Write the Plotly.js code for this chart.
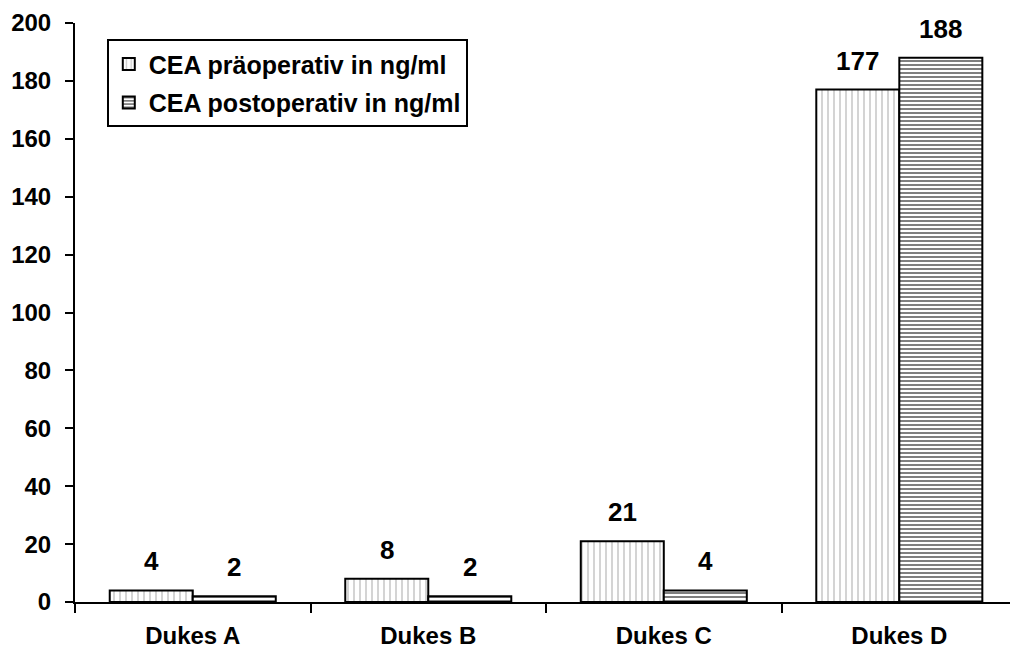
<!DOCTYPE html>
<html>
<head>
<meta charset="utf-8">
<script src="https://cdn.plot.ly/plotly-3.0.1.min.js"></script>
<style>
  html, body { margin: 0; padding: 0; background: #fff; }
  #chart { width: 1010px; height: 653px; }
</style>
</head>
<body>
<div id="chart"></div>
<script>
// CEA-Werte nach Dukes-Stadium
const categories = ["Dukes A", "Dukes B", "Dukes C", "Dukes D"];
const seriesNames = ["CEA präoperativ in ng/ml", "CEA postoperativ in ng/ml"];
const preValues = [4, 8, 21, 177];
const postValues = [2, 2, 4, 188];
const yTicks = [0, 20, 40, 60, 80, 100, 120, 140, 160, 180, 200];

const FONT = "Liberation Sans, Arial, Helvetica, sans-serif";

const traces = [
  {
    type: "bar",
    name: seriesNames[0],
    legendgroup: "pre",
    x: categories,
    y: preValues,
    marker: {
      color: "#ffffff",
      line: { color: "#000000", width: 2 },
      pattern: { shape: "|", size: 6, solidity: 0.28, fgcolor: "#999999", bgcolor: "#ffffff", fillmode: "overlay" }
    },
    hoverinfo: "x+y"
  },
  {
    type: "bar",
    name: seriesNames[1],
    legendgroup: "post",
    x: categories,
    y: postValues,
    marker: {
      color: "#ffffff",
      line: { color: "#000000", width: 2 },
      pattern: { shape: "-", size: 4, solidity: 0.5, fgcolor: "#000000", bgcolor: "#ffffff", fillmode: "overlay" }
    },
    hoverinfo: "x+y"
  }
];

// Value labels above each bar (half a bar width left/right of the category centre)
const plotWidth = 1010 - 75;
const xRange = [-0.5, 3.47];
const pxPerCat = plotWidth / (xRange[1] - xRange[0]);
const bargap = 0.295;
const barPx = pxPerCat * (1 - bargap) / 2;

const annotations = [];
[preValues, postValues].forEach((vals, s) => {
  vals.forEach((v, i) => {
    annotations.push({
      x: categories[i],
      y: v,
      xref: "x",
      yref: "y",
      text: "<b>" + v + "</b>",
      showarrow: false,
      xanchor: "center",
      yanchor: "bottom",
      xshift: (s === 0 ? -1 : 1) * barPx / 2,
      yshift: 12,
      font: { family: FONT, size: 26, color: "#000000" }
    });
  });
});

const layout = {
  width: 1010,
  height: 653,
  margin: { l: 75, r: 0, t: 23, b: 51, pad: 0 },
  paper_bgcolor: "#ffffff",
  plot_bgcolor: "#ffffff",
  barmode: "group",
  bargap: bargap,
  bargroupgap: 0,
  font: { family: FONT, size: 24, color: "#000000", weight: "bold" },
  showlegend: true,
  legend: {
    x: 0.034,
    y: 0.972,
    xanchor: "left",
    yanchor: "top",
    bgcolor: "#ffffff",
    bordercolor: "#000000",
    borderwidth: 2,
    tracegroupgap: 3,
    itemwidth: 30,
    font: { family: FONT, size: 25, color: "#000000", weight: "bold" }
  },
  xaxis: {
    type: "category",
    range: xRange,
    showgrid: false,
    zeroline: false,
    showline: true,
    linecolor: "#000000",
    linewidth: 2,
    ticks: "outside",
    tickson: "boundaries",
    ticklen: 9,
    tickwidth: 2,
    tickcolor: "#000000",
    ticklabelstandoff: 11,
    tickfont: { family: FONT, size: 24, color: "#000000", weight: "bold" },
    fixedrange: true
  },
  yaxis: {
    range: [0, 200],
    tickvals: yTicks,
    ticktext: yTicks.map(String),
    showgrid: false,
    zeroline: false,
    showline: true,
    linecolor: "#000000",
    linewidth: 2,
    ticks: "outside",
    ticklen: 8,
    tickwidth: 2,
    tickcolor: "#000000",
    ticklabelstandoff: 9,
    tickfont: { family: FONT, size: 24, color: "#000000", weight: "bold" },
    fixedrange: true
  },
  annotations: annotations
};

Plotly.newPlot("chart", traces, layout, { displayModeBar: false, staticPlot: true });
</script>
</body>
</html>
